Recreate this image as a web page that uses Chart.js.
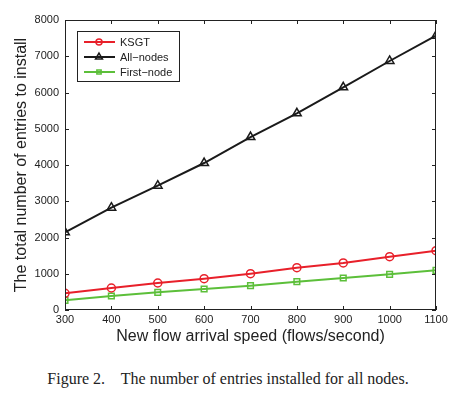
<!DOCTYPE html>
<html>
<head>
<meta charset="utf-8">
<script src="https://cdn.jsdelivr.net/npm/chart.js@4.4.1/dist/chart.umd.min.js"></script>
<style>
  body { margin: 0; background: #fff; }
  #wrap { position: relative; width: 456px; height: 346px; }
  #caption { font-family: "Liberation Serif", "Times New Roman", serif; font-size: 16px; text-align: center; margin-top: 24px; color: #222; }
</style>
</head>
<body>
<div id="wrap"><canvas id="myChart"></canvas></div>
<div id="caption">Figure 2.&nbsp;&nbsp;&nbsp; The number of entries installed for all nodes.</div>
<script>
const speeds = [300, 400, 500, 600, 700, 800, 900, 1000, 1100];
const ksgt = [460, 607, 745, 864, 1002, 1168, 1297, 1471, 1637];
const allNodes = [2143, 2822, 3430, 4055, 4772, 5425, 6143, 6869, 7568];
const firstNode = [267, 386, 488, 579, 671, 781, 883, 984, 1095];

function pts(vals) {
    return speeds.map((s, i) => ({ x: s, y: vals[i] }));
}

// MATLAB style box with inward ticks and a legend inside the axes
const boxPlugin = {
    id: 'box',
    afterDatasetsDraw(chart) {
        const ctx = chart.ctx;
        const a = chart.chartArea;
        const xs = chart.scales.x, ys = chart.scales.y;
        ctx.save();
        ctx.strokeStyle = '#222';
        ctx.lineWidth = 1;
        ctx.strokeRect(a.left + 0.5, a.top + 0.5, a.right - a.left - 1, a.bottom - a.top - 1);
        ctx.beginPath();
        xs.ticks.forEach(t => {
            const px = Math.round(xs.getPixelForValue(t.value)) + 0.5;
            ctx.moveTo(px, a.bottom); ctx.lineTo(px, a.bottom - 4);
            ctx.moveTo(px, a.top); ctx.lineTo(px, a.top + 4);
        });
        ys.ticks.forEach(t => {
            const py = Math.round(ys.getPixelForValue(t.value)) + 0.5;
            ctx.moveTo(a.left, py); ctx.lineTo(a.left + 4, py);
            ctx.moveTo(a.right, py); ctx.lineTo(a.right - 4, py);
        });
        ctx.stroke();

        // legend
        const lx = 77, ly = 31, lw = 102, lh = 50;
        ctx.fillStyle = '#fff';
        ctx.fillRect(lx, ly, lw, lh);
        ctx.strokeStyle = '#222';
        ctx.strokeRect(lx + 0.5, ly + 0.5, lw, lh);
        ctx.font = '11px "Liberation Sans", Arial, sans-serif';
        ctx.textBaseline = 'middle';
        chart.data.datasets.forEach((ds, i) => {
            const y = ly + 11 + i * 15;
            ctx.strokeStyle = ds.borderColor;
            ctx.lineWidth = 2;
            ctx.beginPath();
            ctx.moveTo(lx + 7, y); ctx.lineTo(lx + 38, y);
            ctx.stroke();
            ctx.fillStyle = 'rgba(0,0,0,0)';
            ctx.lineWidth = 1.5;
            Chart.helpers.drawPoint(ctx, {
                pointStyle: ds.pointStyle, radius: ds.pointRadius - 1, borderWidth: 1.5
            }, lx + 22, y);
            ctx.fillStyle = '#222';
            ctx.fillText(ds.label, lx + 43, y + 1);
        });
        ctx.restore();
    }
};

const ctx = document.getElementById('myChart').getContext('2d');
new Chart(ctx, {
    type: 'line',
    data: {
        datasets: [
            {
                label: 'KSGT', data: pts(ksgt),
                borderColor: '#e8202a', backgroundColor: 'rgba(0,0,0,0)',
                pointStyle: 'circle', pointRadius: 4, borderWidth: 2, pointBorderWidth: 1.5
            },
            {
                label: 'All\u2212nodes', data: pts(allNodes),
                borderColor: '#1a1a1a', backgroundColor: 'rgba(0,0,0,0)',
                pointStyle: 'triangle', pointRadius: 5, borderWidth: 2, pointBorderWidth: 1.5
            },
            {
                label: 'First\u2212node', data: pts(firstNode),
                borderColor: '#5cbf3a', backgroundColor: 'rgba(0,0,0,0)',
                pointStyle: 'rect', pointRadius: 4, borderWidth: 2, pointBorderWidth: 1.5
            }
        ]
    },
    options: {
        responsive: true,
        maintainAspectRatio: false,
        animation: false,
        layout: { padding: { left: 0, right: 20, top: 20, bottom: 0 } },
        plugins: { legend: { display: false }, tooltip: { enabled: false } },
        scales: {
            x: {
                type: 'linear', min: 300, max: 1100,
                grid: { display: false, drawTicks: false },
                border: { display: false },
                ticks: { stepSize: 100, padding: 3, color: '#222', maxRotation: 0,
                    callback: v => String(v),
                    font: { family: '"Liberation Sans", Arial, sans-serif', size: 11 } },
                title: { display: true, text: 'New flow arrival speed (flows/second)', color: '#222',
                    padding: { top: 0, bottom: 0 },
                    font: { family: '"Liberation Sans", Arial, sans-serif', size: 16 } },
                afterFit(scale) { scale.height = 36; }
            },
            y: {
                min: 0, max: 8000,
                grid: { display: false, drawTicks: false },
                border: { display: false },
                ticks: { stepSize: 1000, padding: 6, color: '#222',
                    callback: v => String(v),
                    font: { family: '"Liberation Sans", Arial, sans-serif', size: 11 } },
                title: { display: true, text: 'The total number of entries to install', color: '#222',
                    padding: { top: 12, bottom: 0 },
                    font: { family: '"Liberation Sans", Arial, sans-serif', size: 16 } },
                afterFit(scale) { scale.width = 65; }
            }
        }
    },
    plugins: [boxPlugin]
});
</script>
</body>
</html>
